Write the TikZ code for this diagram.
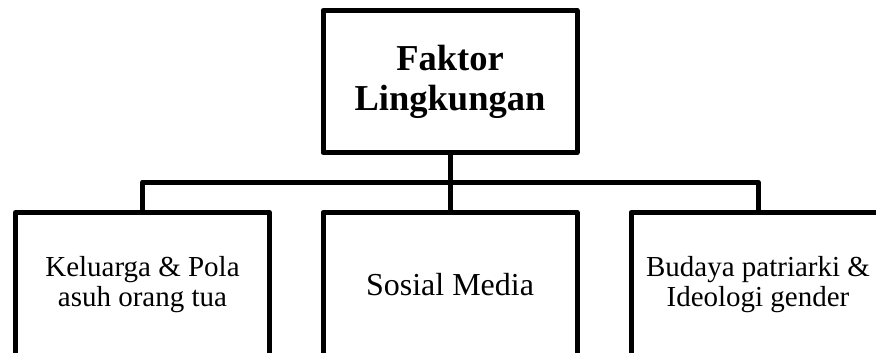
\documentclass[tikz,border=0pt]{standalone}
\usepackage{fontspec}
\setmainfont{Liberation Serif}
\begin{document}
\begin{tikzpicture}[x=1pt,y=-1pt,
  boxstyle/.style={draw=black,line width=5pt,line join=round,rectangle,inner sep=0pt,
    minimum width=254pt,align=center,fill=white},
  topbox/.style={boxstyle,minimum height=142pt,font=\fontsize{36.5}{40}\selectfont\bfseries},
  subbox/.style={boxstyle,minimum height=145pt,font=\fontsize{29}{30}\selectfont},
  link/.style={draw=black,line width=5pt,line join=round}]
\useasboundingbox (0,0) rectangle (876,353);
\clip (0,0) rectangle (876,353);
\fill[white] (0,0) rectangle (876,353);
\node[topbox] (top) at (450,81.5) {Faktor\\Lingkungan};
\node[subbox] (kel) at (142.5,285) {Keluarga \& Pola\\asuh orang tua};
\node[subbox,font=\fontsize{32}{34}\selectfont] (sos) at (450,285) {Sosial Media};
\node[subbox] (bud) at (758,285) {Budaya patriarki \&\\Ideologi gender};
\coordinate (bar) at (450,182);
\draw[link] (top.south) -- (bar);
\draw[link] (bar) -| (kel.north);
\draw[link] (bar) -| (bud.north);
\draw[link] (bar) -- (sos.north);
\end{tikzpicture}
\end{document}
